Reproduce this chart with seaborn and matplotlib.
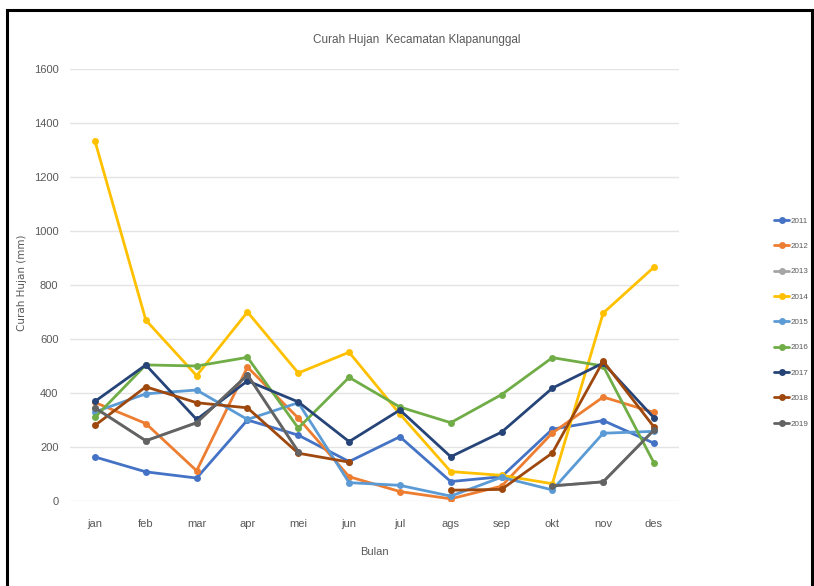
import numpy as np
import pandas as pd
import matplotlib
matplotlib.use("Agg")
import matplotlib.pyplot as plt
from matplotlib.patches import Rectangle
import seaborn as sns

# Data
bulan = ["jan", "feb", "mar", "apr", "mei", "jun", "jul", "ags", "sep", "okt", "nov", "des"]
tahun = ["2011", "2012", "2013", "2014", "2015", "2016", "2017", "2018", "2019"]

ch_2011 = [163, 108, 85, 300, 244, 146, 238, 72, 90, 266, 298, 214]
ch_2012 = [365, 287, 112, 496, 307, 90, 35, 8, 55, 252, 385, 328]
ch_2013 = [345, 223, 290, 467, 183, np.nan, np.nan, np.nan, np.nan, 56, 71, 263]
ch_2014 = [1333, 670, 464, 700, 474, 551, 322, 109, 95, 64, 696, 866]
ch_2015 = [330, 397, 411, 302, 364, 68, 58, 18, 88, 41, 251, 258]
ch_2016 = [310, 504, 500, 532, 270, 458, 348, 290, 394, 531, 500, 141]
ch_2017 = [369, 504, 302, 445, 367, 220, 337, 164, 255, 418, 511, 308]
ch_2018 = [280, 423, 364, 345, 177, 144, np.nan, 40, 43, 178, 518, 274]
ch_2019 = [345, 223, 290, 467, 183, np.nan, np.nan, np.nan, np.nan, 56, 71, 263]

warna = ["#4472C4", "#ED7D31", "#A5A5A5", "#FFC000", "#5B9BD5",
         "#70AD47", "#264478", "#9E480E", "#636363"]

semua = [ch_2011, ch_2012, ch_2013, ch_2014, ch_2015, ch_2016, ch_2017, ch_2018, ch_2019]

# long form, with a segment id so missing months break the line
rows = []
for th, nilai in zip(tahun, semua):
    seg = 0
    for i, v in enumerate(nilai):
        if np.isnan(v):
            seg += 1
            continue
        rows.append({"Tahun": th, "idx": i, "Curah": v, "seg": f"{th}-{seg}"})
df = pd.DataFrame(rows)

sns.set_style("white")
plt.rcParams["font.family"] = ["Liberation Sans", "DejaVu Sans"]

fig = plt.figure(figsize=(8.14, 5.86), dpi=100)
ax = fig.add_axes([69.6 / 814, 85 / 586, 609.8 / 814, 432 / 586])

sns.lineplot(data=df, x="idx", y="Curah", hue="Tahun", units="seg", estimator=None,
             palette=dict(zip(tahun, warna)), hue_order=tahun, marker="o",
             markersize=5, markeredgewidth=0, linewidth=2, sort=False, ax=ax)

ax.set_xlim(-0.5, 11.5)
ax.set_ylim(0, 1600)
ax.set_xticks(range(12))
ax.set_xticklabels(bulan)
ax.set_yticks(range(0, 1601, 200))
ax.tick_params(axis="both", length=0, colors="#595959", labelsize=8, pad=13)
ax.tick_params(axis="y", pad=8)
ax.grid(axis="y", color="#E4E4E4", linewidth=1)
ax.set_axisbelow(True)
for s in ax.spines.values():
    s.set_visible(False)

ax.set_xlabel("Bulan", color="#595959", fontsize=8, labelpad=13)
ax.set_ylabel("Curah Hujan (mm)", color="#595959", fontsize=7.5,
              family=["DejaVu Sans"])
ax.yaxis.set_label_coords((27 - 69.6) / 609.8, (501 - 283) / 432)

fig.text(417 / 814, 1 - 40 / 586, "Curah Hujan  Kecamatan Klapanunggal",
         ha="center", va="center", color="#595959", fontsize=8.5)

ax.get_legend().remove()
handles, labels = ax.get_legend_handles_labels()
fig.legend(handles, labels, loc="upper left", bbox_to_anchor=(774 / 814, 1 - 217 / 586),
           frameon=False, fontsize=5.8, labelspacing=2.2, handlelength=1.9,
           handletextpad=0.2, labelcolor="#595959", borderaxespad=0, borderpad=0)

# black frame around the chart
fig.patches.append(Rectangle((7 / 814, -0.05), 805 / 814, 1 - 10 / 586 + 0.05,
                             transform=fig.transFigure, fill=False,
                             edgecolor="black", linewidth=2.2))

fig.savefig("out.png", dpi=100)
